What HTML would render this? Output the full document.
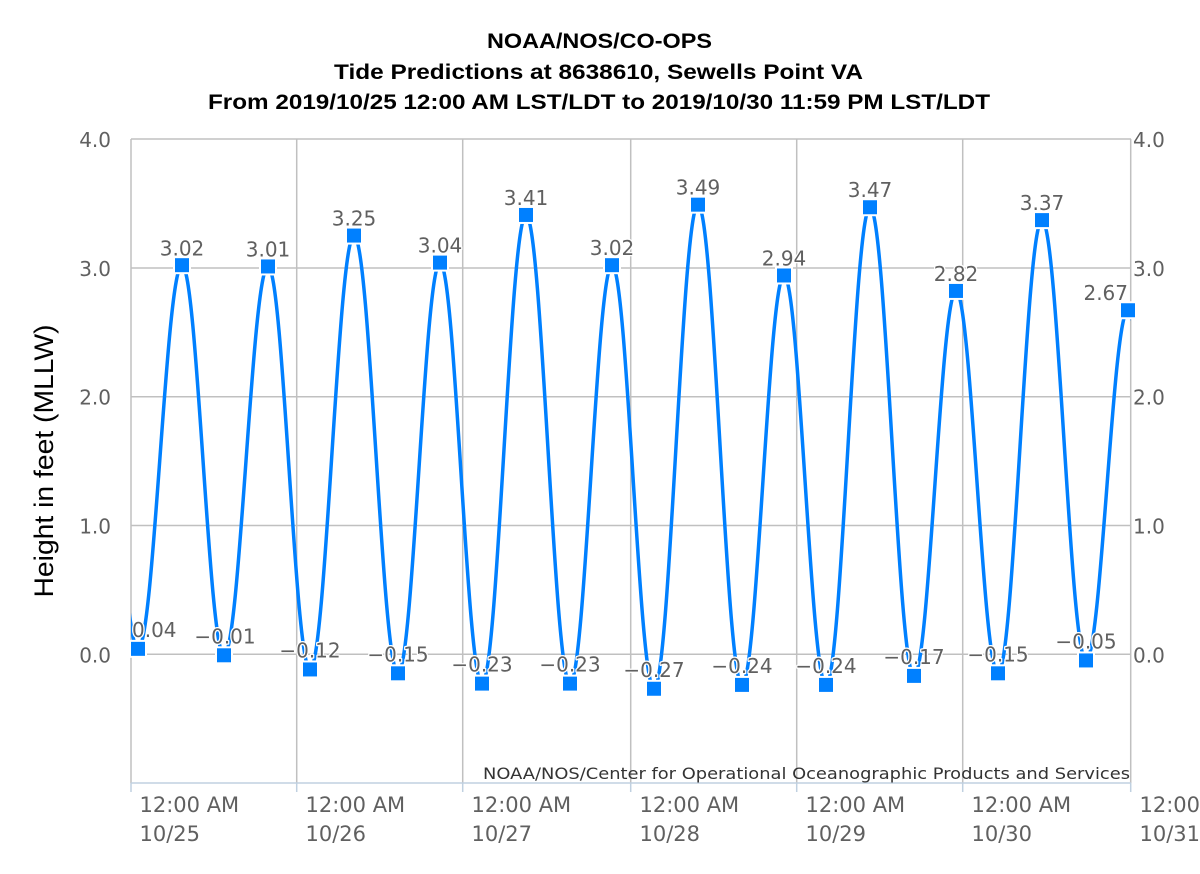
<!DOCTYPE html>
<html>
<head>
<meta charset="utf-8">
<style>
html,body{margin:0;padding:0;background:#fff;}
svg{display:block;}
.t{font-family:"Liberation Sans",Arial,sans-serif;font-weight:bold;font-size:21px;fill:#000;}
.ax{font-family:"DejaVu Sans",Verdana,sans-serif;font-size:20px;fill:#606060;}
.xl{font-family:"DejaVu Sans",Verdana,sans-serif;font-size:21px;fill:#606060;}
.dl{font-family:"DejaVu Sans",Verdana,sans-serif;font-size:20px;fill:#606060;stroke:#fff;stroke-width:2.5px;paint-order:stroke;stroke-linejoin:round;}
</style>
</head>
<body>
<svg width="1200" height="874" viewBox="0 0 1200 874" xmlns="http://www.w3.org/2000/svg">
<rect x="0" y="0" width="1200" height="874" fill="#fff"/>
<defs>
<clipPath id="pc"><rect x="131" y="130" width="1000" height="653"/></clipPath>
</defs>

<!-- Title -->
<text class="t" x="487" y="48" textLength="225" lengthAdjust="spacingAndGlyphs">NOAA/NOS/CO-OPS</text>
<text class="t" x="334" y="79" textLength="529" lengthAdjust="spacingAndGlyphs">Tide Predictions at 8638610, Sewells Point VA</text>
<text class="t" x="208" y="109" textLength="782" lengthAdjust="spacingAndGlyphs">From 2019/10/25 12:00 AM LST/LDT to 2019/10/30 11:59 PM LST/LDT</text>

<!-- horizontal grid -->
<g stroke="#c0c0c0" stroke-width="1.5" fill="none">
<line x1="131" y1="139" x2="1131" y2="139"/>
<line x1="131" y1="268" x2="1131" y2="268"/>
<line x1="131" y1="396.7" x2="1131" y2="396.7"/>
<line x1="131" y1="525.5" x2="1131" y2="525.5"/>
<line x1="131" y1="654.3" x2="1131" y2="654.3"/>
<!-- vertical grid -->
<line x1="131" y1="139" x2="131" y2="783"/>
<line x1="296.7" y1="139" x2="296.7" y2="783"/>
<line x1="462.7" y1="139" x2="462.7" y2="783"/>
<line x1="630.7" y1="139" x2="630.7" y2="783"/>
<line x1="796.7" y1="139" x2="796.7" y2="783"/>
<line x1="962.7" y1="139" x2="962.7" y2="783"/>
<line x1="1130.7" y1="139" x2="1130.7" y2="783"/>
</g>
<!-- x axis line + ticks -->
<g stroke="#c0d0e0" stroke-width="1.5" fill="none">
<line x1="131" y1="783" x2="1131" y2="783"/>
<line x1="131" y1="783" x2="131" y2="792"/>
<line x1="296.7" y1="783" x2="296.7" y2="792"/>
<line x1="462.7" y1="783" x2="462.7" y2="792"/>
<line x1="630.7" y1="783" x2="630.7" y2="792"/>
<line x1="796.7" y1="783" x2="796.7" y2="792"/>
<line x1="962.7" y1="783" x2="962.7" y2="792"/>
<line x1="1130.7" y1="783" x2="1130.7" y2="792"/>
</g>

<!-- Y axis labels left -->
<g class="ax" text-anchor="end">
<text x="111" y="147">4.0</text>
<text x="111" y="276">3.0</text>
<text x="111" y="404.7">2.0</text>
<text x="111" y="533.5">1.0</text>
<text x="111" y="662.3">0.0</text>
</g>
<!-- Y axis labels right -->
<g class="ax" text-anchor="start">
<text x="1133" y="147">4.0</text>
<text x="1133" y="276">3.0</text>
<text x="1133" y="404.7">2.0</text>
<text x="1133" y="533.5">1.0</text>
<text x="1133" y="662.3">0.0</text>
</g>

<!-- Y title -->
<text transform="translate(53,461) rotate(-90)" text-anchor="middle" font-family="Liberation Sans, Arial, sans-serif" font-size="27" fill="#000" textLength="273" lengthAdjust="spacingAndGlyphs">Height in feet (MLLW)</text>

<!-- X labels -->
<g class="xl">
<text x="139.5" y="812">12:00 AM</text><text x="139.5" y="841">10/25</text>
<text x="305.5" y="812">12:00 AM</text><text x="305.5" y="841">10/26</text>
<text x="471.5" y="812">12:00 AM</text><text x="471.5" y="841">10/27</text>
<text x="639.5" y="812">12:00 AM</text><text x="639.5" y="841">10/28</text>
<text x="805.5" y="812">12:00 AM</text><text x="805.5" y="841">10/29</text>
<text x="971.5" y="812">12:00 AM</text><text x="971.5" y="841">10/30</text>
<text x="1139.5" y="812">12:00 AM</text><text x="1139.5" y="841">10/31</text>
</g>

<!-- Credits -->
<text x="1130" y="779" text-anchor="end" font-family="DejaVu Sans, Verdana, sans-serif" font-size="16" fill="#333" textLength="647" lengthAdjust="spacingAndGlyphs">NOAA/NOS/Center for Operational Oceanographic Products and Services</text>

<!-- Series line -->
<path clip-path="url(#pc)" fill="none" stroke="#0080ff" stroke-width="3.5" stroke-linejoin="round" stroke-linecap="round"
d="M94,267.75
C110,267.75 122,648.85 138,648.85
C154,648.85 166,265.17 182,265.17
C197.3,265.17 208.7,655.29 224,655.29
C240,655.29 252,266.46 268,266.46
C283.3,266.46 294.7,669.45 310,669.45
C326,669.45 338,235.56 354,235.56
C370,235.56 382,673.31 398,673.31
C413.3,673.31 424.7,262.6 440,262.6
C455.3,262.6 466.7,683.61 482,683.61
C498,683.61 510,214.96 526,214.96
C542,214.96 554,683.61 570,683.61
C585.3,683.61 596.7,265.17 612,265.17
C627.3,265.17 638.7,688.76 654,688.76
C670,688.76 682,204.66 698,204.66
C714,204.66 726,684.9 742,684.9
C757.3,684.9 768.7,275.48 784,275.48
C799.3,275.48 810.7,684.9 826,684.9
C842,684.9 854,207.24 870,207.24
C886,207.24 898,675.89 914,675.89
C929.3,675.89 940.7,290.93 956,290.93
C971.3,290.93 982.7,673.31 998,673.31
C1014,673.31 1026,220.11 1042,220.11
C1058,220.11 1070,660.44 1086,660.44
C1101.3,660.44 1112.7,310.24 1128,310.24
C1143.6,310.24 1155.4,667 1171,667"/>

<!-- Markers -->
<g fill="#0080ff" stroke="#fff" stroke-width="2">
<rect x="130" y="640.85" width="16" height="16"/>
<rect x="174" y="257.17" width="16" height="16"/>
<rect x="216" y="647.29" width="16" height="16"/>
<rect x="260" y="258.46" width="16" height="16"/>
<rect x="302" y="661.45" width="16" height="16"/>
<rect x="346" y="227.56" width="16" height="16"/>
<rect x="390" y="665.31" width="16" height="16"/>
<rect x="432" y="254.6" width="16" height="16"/>
<rect x="474" y="675.61" width="16" height="16"/>
<rect x="518" y="206.96" width="16" height="16"/>
<rect x="562" y="675.61" width="16" height="16"/>
<rect x="604" y="257.17" width="16" height="16"/>
<rect x="646" y="680.76" width="16" height="16"/>
<rect x="690" y="196.66" width="16" height="16"/>
<rect x="734" y="676.9" width="16" height="16"/>
<rect x="776" y="267.48" width="16" height="16"/>
<rect x="818" y="676.9" width="16" height="16"/>
<rect x="862" y="199.24" width="16" height="16"/>
<rect x="906" y="667.89" width="16" height="16"/>
<rect x="948" y="282.93" width="16" height="16"/>
<rect x="990" y="665.31" width="16" height="16"/>
<rect x="1034" y="212.11" width="16" height="16"/>
<rect x="1078" y="652.44" width="16" height="16"/>
<rect x="1120" y="302.24" width="16" height="16"/>
</g>

<!-- Data labels -->
<g class="dl" text-anchor="middle">
<text x="132" y="637" text-anchor="start">0.04</text>
<text x="182" y="255.5">3.02</text>
<text x="225" y="643.3">−0.01</text>
<text x="268" y="256.5">3.01</text>
<text x="310" y="657.5">−0.12</text>
<text x="354" y="225.5">3.25</text>
<text x="398" y="661.3">−0.15</text>
<text x="440" y="252.6">3.04</text>
<text x="482" y="671.6">−0.23</text>
<text x="526" y="205">3.41</text>
<text x="570" y="671.6">−0.23</text>
<text x="612" y="255.2">3.02</text>
<text x="654" y="676.8">−0.27</text>
<text x="698" y="194.7">3.49</text>
<text x="742" y="672.9">−0.24</text>
<text x="784" y="265.5">2.94</text>
<text x="826" y="672.9">−0.24</text>
<text x="870" y="197.2">3.47</text>
<text x="914" y="663.9">−0.17</text>
<text x="956" y="281">2.82</text>
<text x="998" y="661.3">−0.15</text>
<text x="1042" y="210">3.37</text>
<text x="1086" y="648.4">−0.05</text>
<text x="1128" y="300.2" text-anchor="end">2.67</text>
</g>
</svg>
</body>
</html>
